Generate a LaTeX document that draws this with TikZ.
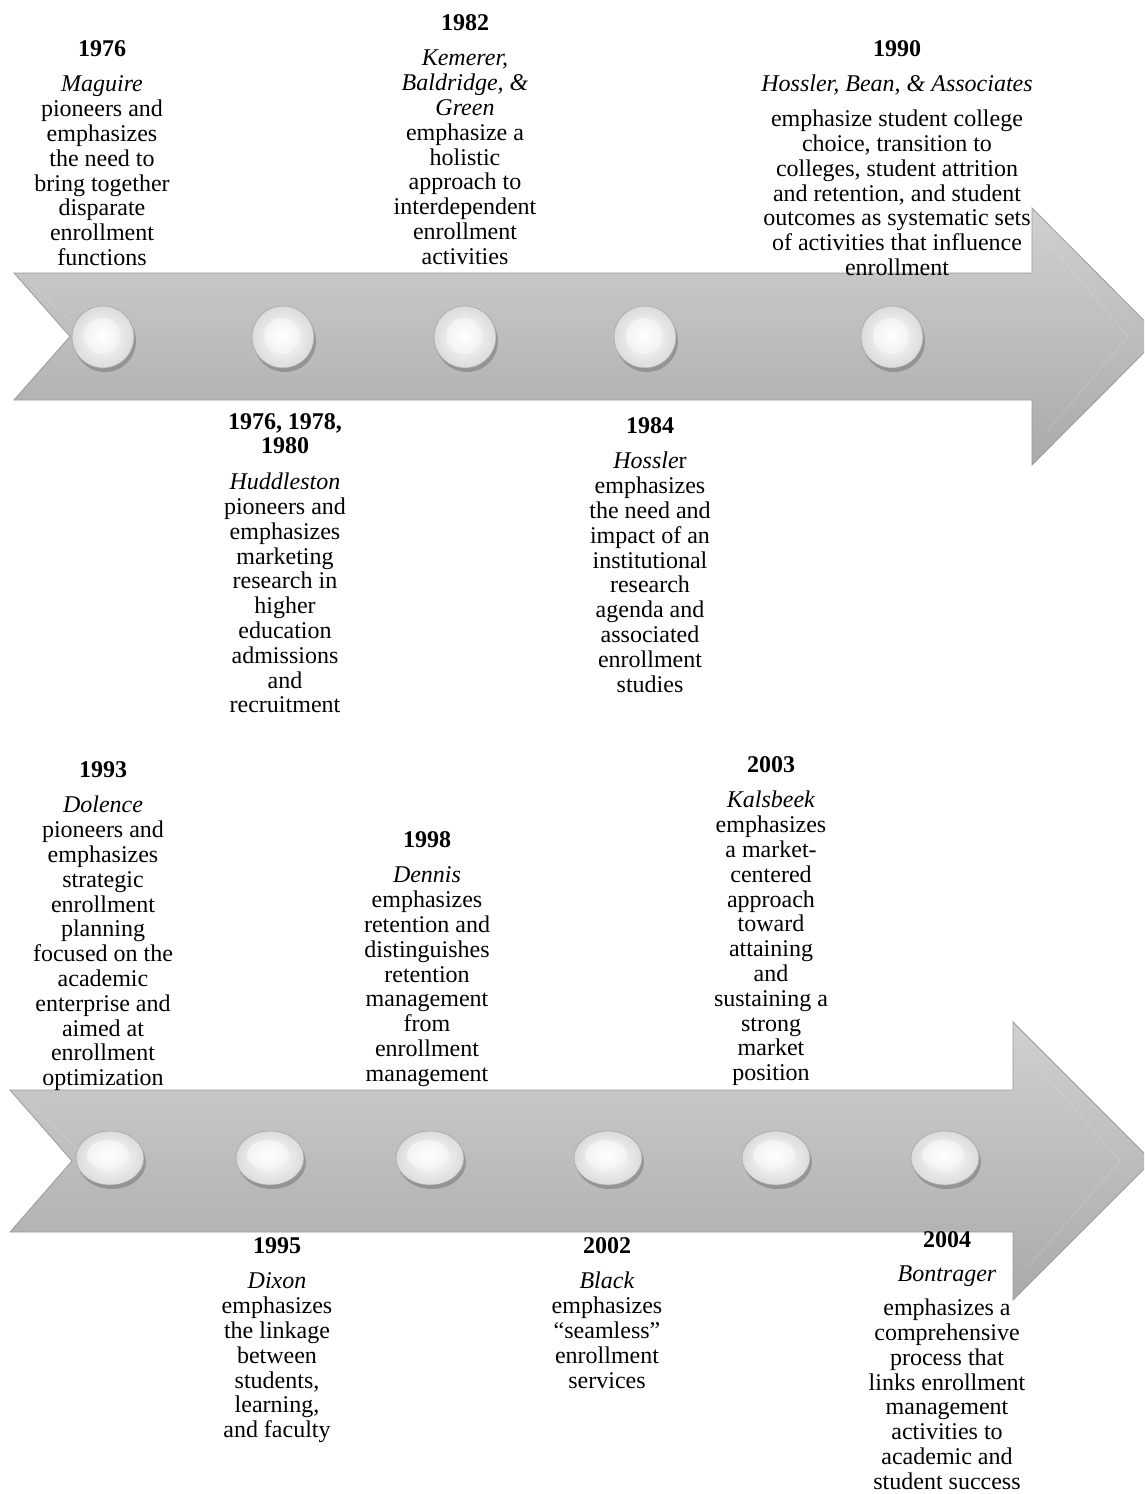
\documentclass[tikz,border=0pt]{standalone}
\usepackage{fontspec}
\setmainfont{Liberation Serif}
\definecolor{arrtop}{RGB}{208,208,208}
\definecolor{arrbot}{RGB}{170,170,170}
\definecolor{arredge}{RGB}{155,155,155}
\definecolor{beadedge}{RGB}{160,160,160}
\begin{document}
\begin{tikzpicture}[x=1pt,y=-1pt,
  txt/.style={font=\fontsize{24}{24.8}\selectfont, align=center, inner sep=0pt, anchor=north},
  arrowbody/.style={top color=arrtop, bottom color=arrbot, draw=arredge, line width=0.8pt, line join=miter},
  bevel/.style={draw=white, opacity=0.15, line width=1pt},
  beadshadow/.style={fill=black, opacity=0.2},
  beadouter/.style={inner color=white, outer color=gray!28, draw=beadedge, line width=0.5pt},
  beadinner/.style={inner color=white, outer color=gray!10}
]
\useasboundingbox (0,0) rectangle (1144,1494);
\clip (0,0) rectangle (1144,1494);
\fill[white] (0,0) rectangle (1144,1494);

% ---------- arrow 1 ----------
\shade[arrowbody] (14,273) -- (1032,273) -- (1032,208) -- (1160,336.5) -- (1032,465) -- (1032,400) -- (14,400) -- (70,336.5) -- cycle;
\draw[bevel] (1046,240) -- (1128,336.5) -- (1046,433);
\draw[bevel] (30,283) -- (80,330);

% ---------- arrow 2 ----------
\shade[arrowbody] (10,1090) -- (1013,1090) -- (1013,1022) -- (1152,1161) -- (1013,1300) -- (1013,1232) -- (10,1232) -- (72,1161) -- cycle;
\draw[bevel] (1028,1055) -- (1120,1161) -- (1028,1267);
\draw[bevel] (26,1100) -- (80,1152);

% ---------- beads arrow 1 ----------
\foreach \i/\x in {1/103,2/283,3/465,4/645,5/892}{
  \coordinate (c\i) at (\x,337);
  \fill[beadshadow] ([shift={(2,4)}]c\i) circle (31);
  \shade[beadouter] (c\i) circle (31);
  \shade[beadinner] ([shift={(-1,-1)}]c\i) circle (18);
}
% ---------- beads arrow 2 ----------
\foreach \i/\x in {1/110,2/270,3/430,4/608,5/776,6/945}{
  \coordinate (d\i) at (\x,1158);
  \fill[beadshadow] ([shift={(2,4)}]d\i) ellipse [x radius=34, y radius=27];
  \shade[beadouter] (d\i) ellipse [x radius=34, y radius=27];
  \shade[beadinner] ([shift={(-2,-3)}]d\i) ellipse [x radius=21, y radius=15];
}

% ---------- texts, top row ----------
\node[txt] (t1976) at (102,40) {\textbf{1976}\\[11pt]\textit{Maguire}\\pioneers and\\emphasizes\\the need to\\bring together\\disparate\\enrollment\\functions};
\node[txt] (t1982) at (465,14) {\textbf{1982}\\[11pt]\textit{Kemerer,}\\\textit{Baldridge, \&}\\\textit{Green}\\emphasize a\\holistic\\approach to\\interdependent\\enrollment\\activities};
\node[txt] (t1990) at (897,40) {\textbf{1990}\\[11pt]\textit{Hossler, Bean, \& Associates}\\[10pt]emphasize student college\\choice, transition to\\colleges, student attrition\\and retention, and student\\outcomes as systematic sets\\of activities that influence\\enrollment};
\node[txt] (t1976b) at (285,413) {\textbf{1976, 1978,}\\\textbf{1980}\\[11pt]\textit{Huddleston}\\pioneers and\\emphasizes\\marketing\\research in\\higher\\education\\admissions\\and\\recruitment};
\node[txt] (t1984) at (650,417) {\textbf{1984}\\[11pt]\textit{Hossle}r\\emphasizes\\the need and\\impact of an\\institutional\\research\\agenda and\\associated\\enrollment\\studies};

% ---------- texts, bottom row ----------
\node[txt] (t1993) at (103,761) {\textbf{1993}\\[11pt]\textit{Dolence}\\pioneers and\\emphasizes\\strategic\\enrollment\\planning\\focused on the\\academic\\enterprise and\\aimed at\\enrollment\\optimization};
\node[txt] (t1998) at (427,831) {\textbf{1998}\\[11pt]\textit{Dennis}\\emphasizes\\retention and\\distinguishes\\retention\\management\\from\\enrollment\\management};
\node[txt] (t2003) at (771,756) {\textbf{2003}\\[11pt]\textit{Kalsbeek}\\emphasizes\\a market-\\centered\\approach\\toward\\attaining\\and\\sustaining a\\strong\\market\\position};
\node[txt] (t1995) at (277,1237) {\textbf{1995}\\[11pt]\textit{Dixon}\\emphasizes\\the linkage\\between\\students,\\learning,\\and faculty};
\node[txt] (t2002) at (607,1237) {\textbf{2002}\\[11pt]\textit{Black}\\emphasizes\\“seamless”\\enrollment\\services};
\node[txt] (t2004) at (947,1231) {\textbf{2004}\\[10pt]\textit{Bontrager}\\[9pt]emphasizes a\\comprehensive\\process that\\links enrollment\\management\\activities to\\academic and\\student success};
\end{tikzpicture}
\end{document}
